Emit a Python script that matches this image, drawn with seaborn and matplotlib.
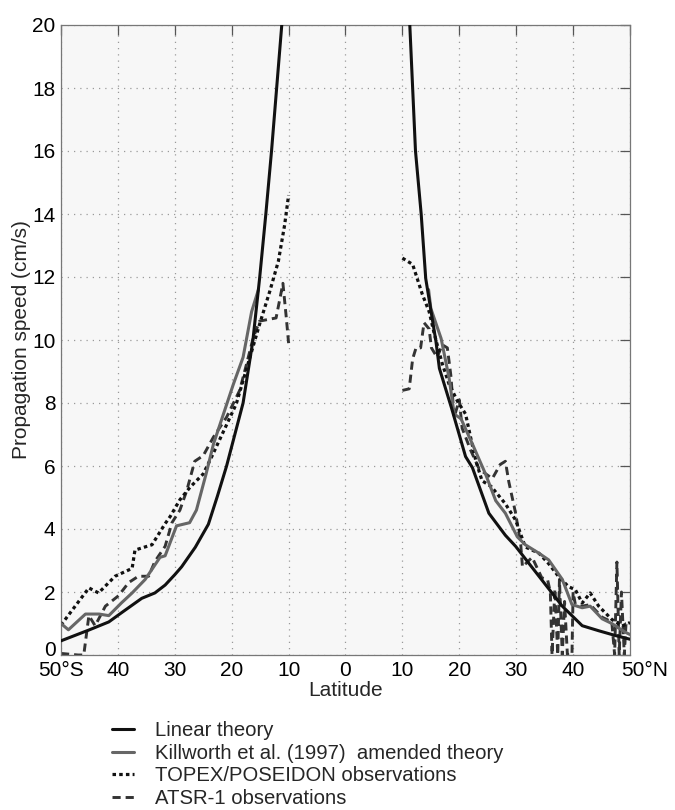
import numpy as np
import pandas as pd
import matplotlib
matplotlib.use("Agg")
import matplotlib.pyplot as plt
import matplotlib.transforms as mtransforms
from matplotlib.lines import Line2D
import seaborn as sns

# ---------------- data ----------------
linear_s_lat = [-50, -45.0, -41.6, -39.3, -35.8, -33.5, -31.7, -30.0, -28.8, -26.4, -24.1, -22.5, -20.9, -18.0, -16.3, -15.1, -14.0, -13.0, -11.2]
linear_s_val = [0.45, 0.8, 1.05, 1.35, 1.8, 1.97, 2.22, 2.55, 2.8, 3.42, 4.15, 5.05, 6.0, 8.0, 9.95, 11.95, 14.0, 16.0, 20.0]
linear_n_lat = [11.3, 12.3, 13.3, 14.1, 15.9, 16.5, 18.7, 21.1, 22.3, 25.2, 28.1, 29.9, 34.0, 38.1, 41.6, 44.5, 47.4, 50]
linear_n_val = [20.0, 16.0, 14.0, 11.95, 9.95, 9.1, 7.8, 6.3, 5.95, 4.5, 3.8, 3.45, 2.5, 1.55, 0.93, 0.77, 0.62, 0.5]

kill_s_lat = [-50, -48.7, -45.7, -43.3, -41.6, -39.4, -37.5, -35.2, -32.6, -31.7, -29.7, -27.4, -26.2, -24.5, -23.2, -19.7, -18.0, -16.5, -15.3]
kill_s_val = [1.0, 0.8, 1.3, 1.3, 1.25, 1.65, 1.97, 2.4, 3.1, 3.15, 4.1, 4.2, 4.6, 5.75, 6.7, 8.6, 9.45, 10.9, 11.6]
kill_n_lat = [14.6, 15.0, 16.8, 18.2, 19.1, 20.3, 22.3, 24.6, 26.4, 28.1, 30.2, 31.6, 34.0, 35.7, 38.1, 39.8, 41.6, 43.0, 45.1, 46.8, 49.2, 50]
kill_n_val = [11.6, 11.0, 10.05, 8.8, 7.65, 7.5, 6.7, 5.75, 4.9, 4.5, 3.75, 3.5, 3.23, 3.02, 2.4, 1.6, 1.5, 1.55, 1.15, 1.0, 0.72, 0.65]

topex_s_lat = [-50, -45.1, -43.4, -40.5, -37.5, -37.0, -34.0, -31.7, -30.8, -29.1, -27.3, -25.0, -23.5, -19.2, -16.8, -15.1, -13.3, -11.8, -10.7, -10.0]
topex_s_val = [0.95, 2.13, 1.97, 2.5, 2.75, 3.33, 3.5, 4.17, 4.4, 4.93, 5.33, 5.75, 6.3, 7.97, 9.45, 10.5, 11.55, 12.5, 13.65, 14.6]
topex_n_lat = [10.0, 11.8, 13.5, 14.7, 15.6, 17.0, 18.2, 19.7, 21.1, 22.0, 22.9, 24.0, 25.6, 28.1, 29.9, 31.6, 34.0, 35.7, 37.5, 39.2, 40.4, 41.6, 43.0, 44.5, 46.8, 48.6, 50]
topex_n_val = [12.6, 12.4, 11.45, 10.9, 10.2, 9.25, 8.6, 8.05, 7.65, 6.9, 6.17, 5.53, 5.35, 4.8, 4.28, 3.43, 3.23, 2.9, 2.48, 2.17, 2.07, 1.65, 1.97, 1.55, 1.13, 0.92, 1.03]

atsr_s_lat = [-50, -47.0, -46.0, -45.1, -44.0, -42.2, -39.9, -38.1, -36.4, -34.6, -33.5, -31.7, -30.5, -29.1, -27.9, -26.5, -25.0, -23.2, -20.9, -18.6, -17.4, -16.2, -15.1, -12.2, -11.3, -11.0, -10.4, -10.0]
atsr_s_val = [0.05, 0.0, 0.0, 1.25, 0.93, 1.55, 1.88, 2.3, 2.5, 2.5, 2.97, 3.45, 4.2, 4.6, 5.22, 6.15, 6.33, 6.92, 7.55, 8.4, 9.23, 10.08, 10.6, 10.7, 11.52, 11.8, 10.7, 9.9]
atsr_n_lat = [10.0, 11.2, 11.8, 12.4, 13.2, 13.8, 14.7, 15.1, 16.1, 17.0, 17.9, 18.5, 19.1, 20.0, 20.5, 22.0, 23.5, 25.8, 27.2, 28.1, 28.7, 29.3, 29.9, 30.8, 31.1, 32.8, 34.5, 35.5, 36.0, 36.3, 36.8, 37.3, 37.6, 38.1, 38.5, 39.0, 39.8, 40.0, 40.4, 41.6, 43.0, 45.1, 46.8, 47.3, 47.7, 48.1, 48.5, 49.0, 49.3, 50]
atsr_n_val = [8.4, 8.45, 9.4, 9.75, 9.75, 10.55, 10.35, 9.75, 9.45, 9.85, 9.75, 8.9, 7.55, 8.1, 7.2, 6.5, 5.9, 5.6, 6.05, 6.15, 5.5, 5.0, 4.5, 3.5, 2.8, 3.1, 2.45, 2.4, 2.0, 0.0, 2.1, 0.0, 2.4, 0.0, 1.7, 0.0, 0.0, 2.0, 1.6, 1.55, 1.6, 1.2, 1.05, 0.0, 2.95, 0.0, 2.0, 0.0, 1.0, 1.05]

x_ticks = [-50, -40, -30, -20, -10, 0, 10, 20, 30, 40, 50]
x_tick_labels = ["50°S", "40", "30", "20", "10", "0", "10", "20", "30", "40", "50°N"]
y_ticks = [0, 2, 4, 6, 8, 10, 12, 14, 16, 18, 20]

legend_labels = ["Linear theory",
                 "Killworth et al. (1997)  amended theory",
                 "TOPEX/POSEIDON observations",
                 "ATSR-1 observations"]


def frame(s_lat, s_val, n_lat, n_val):
    return pd.DataFrame({
        "lat": list(s_lat) + list(n_lat),
        "speed": list(s_val) + list(n_val),
        "side": ["S"] * len(s_lat) + ["N"] * len(n_lat),
    })


sns.set_theme(style="white")
plt.rcParams["font.family"] = ["Liberation Sans", "DejaVu Sans"]

fig = plt.figure(figsize=(6.75, 8.1), dpi=100)
ax = fig.add_axes([61 / 675, 1 - 655 / 810, (630 - 61) / 675, (655 - 25) / 810])
ax.set_facecolor("#f7f7f7")

styles = [
    dict(color="#111111", lw=2.2, ls="-"),
    dict(color="#666666", lw=2.2, ls="-"),
    dict(color="#111111", lw=2.3, ls=(0, (1.1, 1.0))),
    dict(color="#333333", lw=2.1, ls=(0, (2.8, 1.7))),
]
datasets = [
    frame(linear_s_lat, linear_s_val, linear_n_lat, linear_n_val),
    frame(kill_s_lat, kill_s_val, kill_n_lat, kill_n_val),
    frame(topex_s_lat, topex_s_val, topex_n_lat, topex_n_val),
    frame(atsr_s_lat, atsr_s_val, atsr_n_lat, atsr_n_val),
]
zorders = [5, 4, 3, 2]
for df, st, z in zip(datasets[::-1], styles[::-1], zorders[::-1]):
    sns.lineplot(data=df, x="lat", y="speed", units="side", estimator=None,
                 sort=False, ax=ax, color=st["color"], linewidth=st["lw"],
                 linestyle=st["ls"], zorder=z, legend=False)

ax.set_xlim(-50, 50)
ax.set_ylim(0, 20)
ax.set_xticks(x_ticks)
ax.set_xticklabels(x_tick_labels)
ax.set_yticks(y_ticks)
ax.grid(True, color="#9a9a9a", linestyle=(0, (1, 4)), linewidth=0.9)
ax.set_axisbelow(True)
ax.tick_params(axis="both", direction="in", length=7, width=0.9, color="#555555",
               labelsize=15, labelcolor="black", top=True, right=True, pad=4)
for sp in ax.spines.values():
    sp.set_color("#777777")
    sp.set_linewidth(0.9)

# shift the "50°N" label like the reference (number centred on tick)
lab = ax.get_xticklabels()[-1]
lab.set_transform(lab.get_transform() + mtransforms.ScaledTranslation(15 / 100, 0, fig.dpi_scale_trans))
# nudge the y "0" label up a little so it does not collide with "50°S"
lab0 = ax.get_yticklabels()[0]
lab0.set_transform(lab0.get_transform() + mtransforms.ScaledTranslation(0, 7 / 100, fig.dpi_scale_trans))

ax.set_xlabel("Latitude", fontsize=15, labelpad=1)
ax.set_ylabel("Propagation speed (cm/s)", fontsize=15, labelpad=1)

handles = [Line2D([0], [0], color=st["color"], lw=st["lw"], ls=st["ls"]) for st in styles]
fig.legend(handles, legend_labels, loc="upper left",
           bbox_to_anchor=(112 / 675, 1 - 721 / 810), frameon=False,
           fontsize=14.6, handlelength=1.1, handletextpad=1.0,
           labelspacing=0.18, borderpad=0.0, borderaxespad=0.0)

fig.savefig("out.png", dpi=100)
